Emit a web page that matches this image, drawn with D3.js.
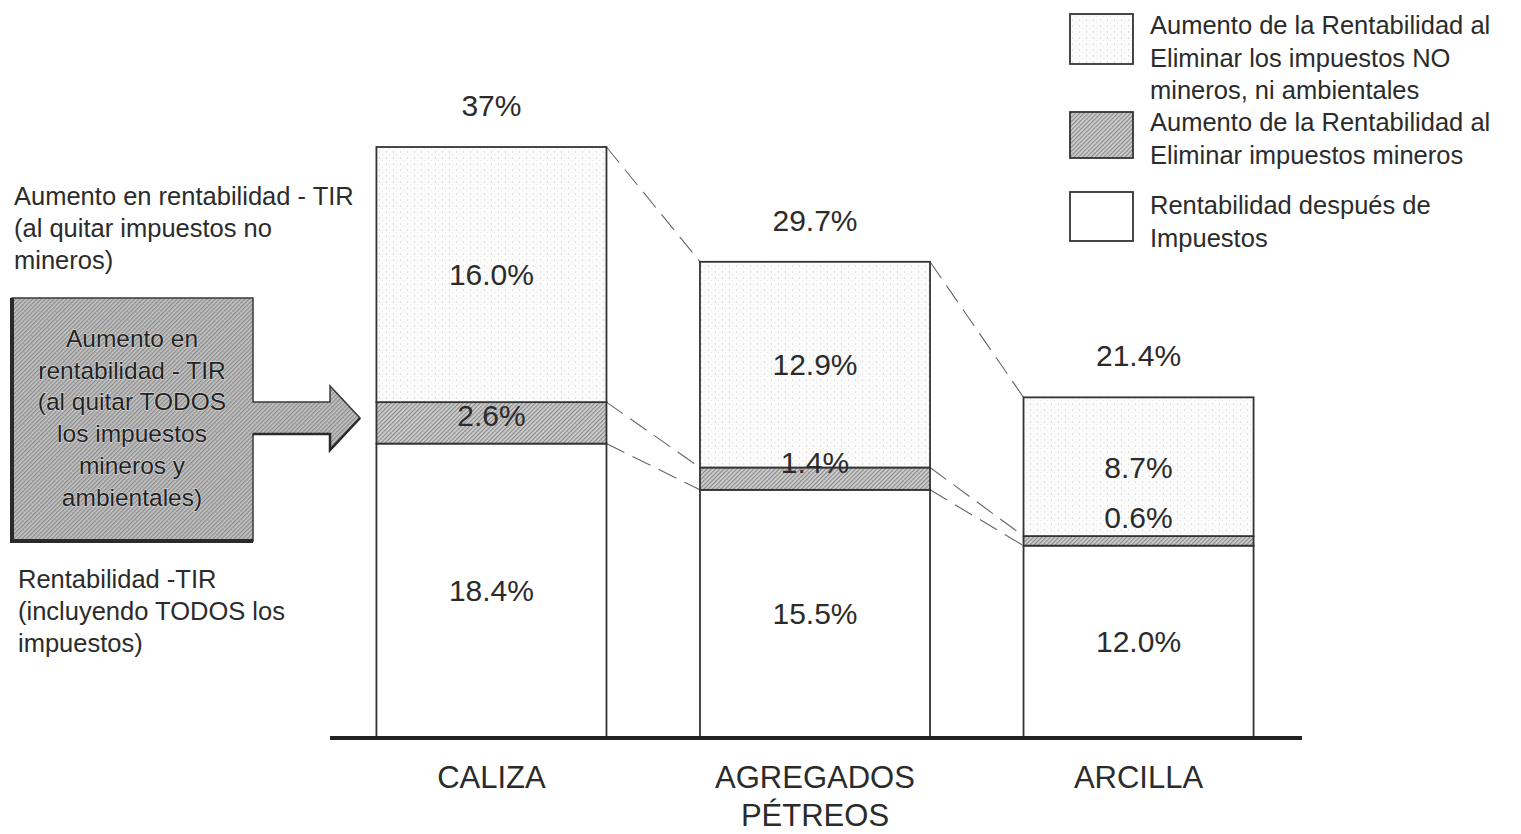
<!DOCTYPE html>
<html>
<head>
<meta charset="utf-8">
<script src="https://cdn.jsdelivr.net/npm/d3@7"></script>
<style>
  body { margin: 0; background: #fff; }
  svg { display: block; font-family: "Liberation Sans", Arial, sans-serif; }
</style>
</head>
<body>
<div id="chart"></div>
<script>
// datos (TIR %)
var categories = ["CALIZA", "AGREGADOS PÉTREOS", "ARCILLA"];
var categoryLines = [["CALIZA"], ["AGREGADOS", "PÉTREOS"], ["ARCILLA"]];
var afterTax = [18.4, 15.5, 12.0];      // Rentabilidad despues de impuestos
var miningTax = [2.6, 1.4, 0.6];        // al eliminar impuestos mineros
var nonMiningTax = [16.0, 12.9, 8.7];   // al eliminar impuestos NO mineros
var totalLabels = ["37%", "29.7%", "21.4%"];
var seriesKeys = ["afterTax", "miningTax", "nonMiningTax"];
var legendLines = [
  ["Aumento de la Rentabilidad al", "Eliminar los impuestos NO", "mineros, ni ambientales"],
  ["Aumento de la Rentabilidad al", "Eliminar impuestos mineros"],
  ["Rentabilidad después de", "Impuestos"]
];

var W = 1521, H = 834, ink = "#2b2b2b";
var svg = d3.select("#chart").append("svg")
    .attr("width", W).attr("height", H);

// patrones de relleno
var defs = svg.append("defs");
var hatch = defs.append("pattern").attr("id", "hatch")
    .attr("width", 3).attr("height", 3)
    .attr("patternUnits", "userSpaceOnUse")
    .attr("patternTransform", "rotate(45)");
hatch.append("rect").attr("width", 3).attr("height", 3).attr("fill", "#d0d0d0");
hatch.append("rect").attr("width", 1.2).attr("height", 3).attr("fill", "#8a8a8a");

var hatchBox = defs.append("pattern").attr("id", "hatchBox")
    .attr("width", 3).attr("height", 3)
    .attr("patternUnits", "userSpaceOnUse")
    .attr("patternTransform", "rotate(45)");
hatchBox.append("rect").attr("width", 3).attr("height", 3).attr("fill", "#c4c4c4");
hatchBox.append("rect").attr("width", 1.3).attr("height", 3).attr("fill", "#8c8c8c");

var speck = defs.append("pattern").attr("id", "speck")
    .attr("width", 7).attr("height", 6)
    .attr("patternUnits", "userSpaceOnUse");
speck.append("rect").attr("width", 7).attr("height", 6).attr("fill", "#fbfbfb");
speck.append("rect").attr("x", 1).attr("y", 1).attr("width", 1).attr("height", 2).attr("fill", "#e0e0e0");
speck.append("rect").attr("x", 4).attr("y", 4).attr("width", 1).attr("height", 1).attr("fill", "#e8e8e8");

var fills = { afterTax: "#ffffff", miningTax: "url(#hatch)", nonMiningTax: "url(#speck)" };

var rows = categories.map(function(c, i) {
  return { cat: c, afterTax: afterTax[i], miningTax: miningTax[i], nonMiningTax: nonMiningTax[i] };
});
var stacked = d3.stack().keys(seriesKeys)(rows);

var x = d3.scaleBand().domain(categories).range([330, 1300])
    .paddingInner(0.289).paddingOuter(0.1435);
var y = d3.scaleLinear().domain([0, 37]).range([737, 147]);

// lineas punteadas entre barras
var conn = svg.append("g").attr("fill", "none")
    .attr("stroke", "#666").attr("stroke-width", 1.1)
    .attr("stroke-dasharray", "20,9");
for (var lvl = 0; lvl < 3; lvl++) {
  for (var i = 0; i < categories.length - 1; i++) {
    conn.append("line")
      .attr("x1", x(categories[i]) + x.bandwidth()).attr("y1", y(stacked[lvl][i][1]))
      .attr("x2", x(categories[i + 1])).attr("y2", y(stacked[lvl][i + 1][1]));
  }
}

// barras apiladas
svg.append("g").selectAll("g").data(stacked).enter().append("g")
  .attr("fill", function(d) { return fills[d.key]; })
  .selectAll("rect").data(function(d) { return d; }).enter().append("rect")
    .attr("x", function(d) { return x(d.data.cat); })
    .attr("y", function(d) { return y(d[1]); })
    .attr("width", x.bandwidth())
    .attr("height", function(d) { return y(d[0]) - y(d[1]); })
    .attr("stroke", "#333").attr("stroke-width", 1.8);

// eje base
svg.append("line")
  .attr("x1", 330).attr("x2", 1302)
  .attr("y1", y(0) + 1).attr("y2", y(0) + 1)
  .attr("stroke", "#222").attr("stroke-width", 4);

// etiquetas de valores
var fmt = d3.format(".1f");
var vals = svg.append("g").attr("fill", ink).attr("font-size", 30)
    .attr("text-anchor", "middle");
stacked.forEach(function(s) {
  s.forEach(function(d) {
    var cx = x(d.data.cat) + x.bandwidth() / 2;
    var cy = s.key === "miningTax" ? y(d[0]) - 28 : (y(d[0]) + y(d[1])) / 2;
    vals.append("text").attr("x", cx).attr("y", cy).attr("dy", "0.36em")
      .text(fmt(d[1] - d[0]) + "%");
  });
});
totalLabels.forEach(function(t, i) {
  vals.append("text")
    .attr("x", x(categories[i]) + x.bandwidth() / 2)
    .attr("y", y(stacked[2][i][1]) - 42).attr("dy", "0.36em")
    .text(t);
});

// categorias
var catG = svg.append("g").attr("fill", ink).attr("font-size", 31)
    .attr("text-anchor", "middle");
categoryLines.forEach(function(lines, i) {
  lines.forEach(function(l, j) {
    catG.append("text")
      .attr("x", x(categories[i]) + x.bandwidth() / 2)
      .attr("y", 788 + j * 38)
      .text(l);
  });
});

// leyenda
var legBoxes = [{ y: 14, h: 50, f: "url(#speck)" }, { y: 112, h: 46, f: "url(#hatch)" }, { y: 192, h: 49, f: "#fff" }];
var legText = [25, 122, 205];
var leg = svg.append("g");
legBoxes.forEach(function(b, i) {
  leg.append("rect").attr("x", 1070).attr("y", b.y).attr("width", 63).attr("height", b.h)
    .attr("fill", b.f).attr("stroke", "#333").attr("stroke-width", 1.8);
  legendLines[i].forEach(function(l, j) {
    leg.append("text").attr("x", 1150).attr("y", legText[i] + j * 32.5)
      .attr("dy", "0.36em").attr("font-size", 25.5).attr("fill", ink).text(l);
  });
});

// anotaciones a la izquierda
var notes = svg.append("g").attr("fill", ink).attr("font-size", 25.5);
["Aumento en rentabilidad - TIR", "(al quitar impuestos no", "mineros)"].forEach(function(l, j) {
  notes.append("text").attr("x", 14).attr("y", 196 + j * 32).attr("dy", "0.36em").text(l);
});
["Rentabilidad -TIR", "(incluyendo TODOS los", "impuestos)"].forEach(function(l, j) {
  notes.append("text").attr("x", 18).attr("y", 579 + j * 32).attr("dy", "0.36em").text(l);
});

// cuadro con flecha
var box = svg.append("g");
box.append("path")
  .attr("d", "M12,298 L253,298 L253,402 L330,402 L330,386 L360,418 L330,450 L330,434 L253,434 L253,541 L12,541 Z")
  .attr("fill", "url(#hatchBox)").attr("stroke", "#3a3a3a").attr("stroke-width", 1.5);
box.append("path").attr("d", "M12,298 L12,541 L253,541")
  .attr("fill", "none").attr("stroke", "#2a2a2a").attr("stroke-width", 4);
box.append("path").attr("d", "M253,434 L330,434 L330,450 L360,418")
  .attr("fill", "none").attr("stroke", "#2a2a2a").attr("stroke-width", 2.5);
["Aumento en", "rentabilidad - TIR", "(al quitar TODOS", "los impuestos", "mineros y", "ambientales)"].forEach(function(l, j) {
  box.append("text").attr("x", 132).attr("y", 338 + j * 31.8).attr("dy", "0.36em")
    .attr("text-anchor", "middle").attr("font-size", 24.5)
    .attr("fill", "#222").attr("stroke", "#dedede").attr("stroke-width", 1)
    .attr("paint-order", "stroke").text(l);
});
</script>
</body>
</html>
